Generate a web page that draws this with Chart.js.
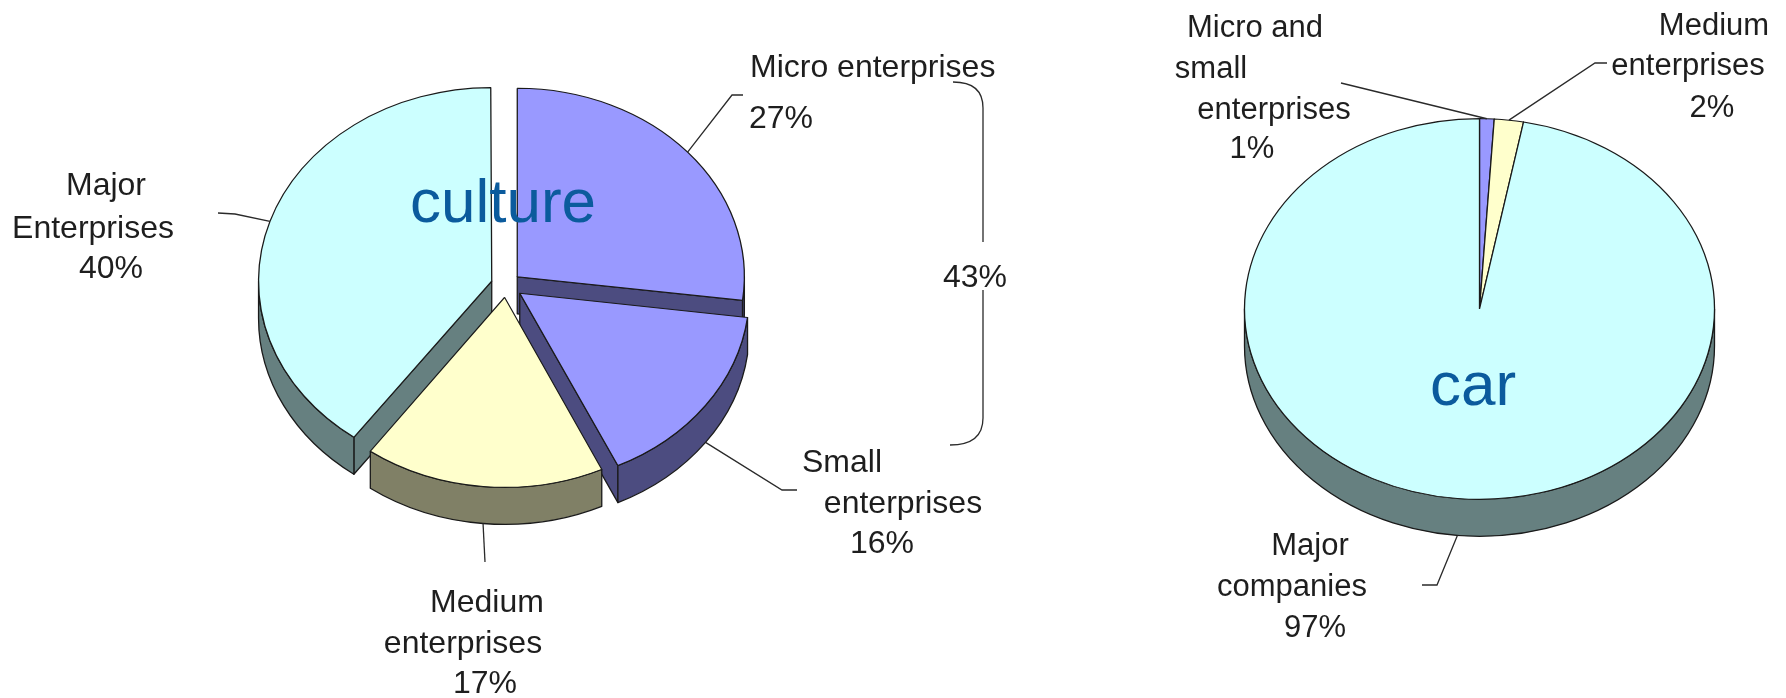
<!DOCTYPE html>
<html>
<head>
<meta charset="utf-8">
<title>Enterprise size shares: culture and car</title>
<script src="https://cdn.jsdelivr.net/npm/chart.js@4.4.1/dist/chart.umd.min.js"></script>
<style>
  html, body { margin: 0; padding: 0; background: #fff; }
  #wrap { position: relative; width: 1786px; height: 698px; }
  #wrap canvas { position: absolute; left: 0; top: 0; }
</style>
</head>
<body>
<div id="wrap">
  <canvas id="cultureChart" width="1786" height="698"></canvas>
  <canvas id="carChart" width="1786" height="698"></canvas>
</div>
<script>
// share of each enterprise size class, in percent
const cultureLabels = [['Micro enterprises'], ['Small', 'enterprises'], ['Medium', 'enterprises'], ['Major', 'Enterprises']];
const cultureShares = [27, 16, 17, 40];

const carLabels = [['Micro and', 'small', 'enterprises'], ['Medium', 'enterprises'], ['Major', 'companies']];
const carShares = [1, 2, 97];

// slice colours: flat top and the darker extruded side
const cultureTop = ['#9999ff', '#9999ff', '#ffffcc', '#ccffff'];
const cultureSide = ['#4c4c80', '#4c4c80', '#808066', '#668080'];
const carTop = ['#9999ff', '#ffffcc', '#ccffff'];
const carSide = ['#4c4c80', '#808066', '#668080'];

const FONT = '"Liberation Sans", Arial, sans-serif';

// geometry of one arc as chart.js draws it (offset and radius fix included),
// projected on the tilted plane
function sliceGeometry(arc, tilt) {
  const {x, y, startAngle, endAngle, outerRadius, options} = arc;
  const off = (options.offset || 0) / 4;
  const mid = (startAngle + endAngle) / 2;
  const alpha = endAngle - startAngle;
  const grow = off * (1 - Math.sin(Math.min(Math.PI, alpha)));
  const r = outerRadius + grow;
  const beta = Math.max(0.001, alpha * r - grow / Math.PI) / r;
  const trim = (alpha - beta) / 2;
  return {
    cx: x + Math.cos(mid) * off,
    cy: y + Math.sin(mid) * off * tilt,
    r: r,
    ry: r * tilt,
    s: startAngle + trim,
    e: endAngle - trim,
    mid: mid
  };
}

function drawSides(ctx, f, depth, color) {
  ctx.fillStyle = color;
  const cut = a => {
    const px = f.cx + Math.cos(a) * f.r;
    const py = f.cy + Math.sin(a) * f.ry;
    ctx.beginPath();
    ctx.moveTo(f.cx, f.cy);
    ctx.lineTo(px, py);
    ctx.lineTo(px, py + depth);
    ctx.lineTo(f.cx, f.cy + depth);
    ctx.closePath();
    ctx.fill();
    ctx.stroke();
  };
  // flat cut faces turned towards the viewer
  if (Math.cos(f.s) < -1e-6) cut(f.s);
  if (Math.cos(f.e) > 1e-6) cut(f.e);
  // curved wall, front half only
  for (let n = -1; n <= 1; n++) {
    const a1 = Math.max(f.s, 2 * Math.PI * n);
    const a2 = Math.min(f.e, Math.PI + 2 * Math.PI * n);
    if (a2 <= a1) continue;
    ctx.beginPath();
    ctx.ellipse(f.cx, f.cy, f.r, f.ry, 0, a1, a2);
    ctx.ellipse(f.cx, f.cy + depth, f.r, f.ry, 0, a2, a1, true);
    ctx.closePath();
    ctx.fill();
    ctx.stroke();
  }
}

const pie3d = {
  id: 'pie3d',
  beforeDatasetsDraw(chart, args, opts) {
    const ctx = chart.ctx;
    const meta = chart.getDatasetMeta(0);
    const faces = meta.data.map((arc, i) => Object.assign(sliceGeometry(arc, opts.tilt), {i}));
    faces.sort((a, b) => Math.sin(a.mid) - Math.sin(b.mid));
    ctx.save();
    ctx.lineWidth = 1.3;
    ctx.strokeStyle = '#1a1a1a';
    ctx.lineJoin = 'round';
    faces.forEach(f => drawSides(ctx, f, opts.depth, opts.sideColors[f.i]));
    ctx.restore();

    // squash the flat pie so the top faces lie on the tilted plane
    const cy = meta.data[0].y;
    ctx.save();
    ctx.translate(0, cy);
    ctx.scale(1, opts.tilt);
    ctx.translate(0, -cy);
  },
  afterDatasetsDraw(chart) {
    chart.ctx.restore();
  }
};

const sliceLabels = {
  id: 'sliceLabels',
  afterDraw(chart, args, opts) {
    const ctx = chart.ctx;
    const meta = chart.getDatasetMeta(0);
    const values = chart.data.datasets[0].data;
    const tilt = chart.options.plugins.pie3d.tilt;
    const depth = chart.options.plugins.pie3d.depth;
    ctx.save();

    // leader lines from the rim of each slice
    ctx.strokeStyle = '#2a2a2a';
    ctx.lineWidth = 1.3;
    meta.data.forEach((arc, i) => {
      const f = sliceGeometry(arc, tilt);
      const ax = f.cx + Math.cos(f.mid) * f.r;
      let ay = f.cy + Math.sin(f.mid) * f.ry;
      if (Math.sin(f.mid) > 0) ay += depth;
      ctx.beginPath();
      ctx.moveTo(ax, ay);
      opts.leaders[i].forEach(p => ctx.lineTo(p[0], p[1]));
      ctx.stroke();
    });

    // category name and percentage
    ctx.fillStyle = '#1e1e1e';
    ctx.font = opts.fontSize + 'px ' + FONT;
    ctx.textBaseline = 'alphabetic';
    meta.data.forEach((arc, i) => {
      const lines = chart.data.labels[i].concat(values[i] + '%');
      const place = opts.places[i];
      ctx.textAlign = place.align || 'center';
      lines.forEach((t, j) => ctx.fillText(t, place.at[j][0], place.at[j][1]));
    });

    // optional brace grouping several slices
    if (opts.brace) {
      const b = opts.brace;
      const total = b.slices.reduce((sum, i) => sum + values[i], 0);
      ctx.beginPath();
      ctx.moveTo(953, 82);
      ctx.quadraticCurveTo(983, 82, 983, 108);
      ctx.lineTo(983, 242);
      ctx.moveTo(983, 290);
      ctx.lineTo(983, 418);
      ctx.quadraticCurveTo(983, 445, 950, 445);
      ctx.stroke();
      ctx.textAlign = 'center';
      ctx.fillText(total + '%', b.at[0], b.at[1]);
    }

    // sector name written across the pie
    ctx.fillStyle = '#0b5b9d';
    ctx.font = '62px ' + FONT;
    ctx.textAlign = 'center';
    ctx.fillText(opts.title.text, opts.title.at[0], opts.title.at[1]);
    ctx.restore();
  }
};

function makePie(canvasId, labels, data, top, side, cfg) {
  return new Chart(document.getElementById(canvasId), {
    type: 'pie',
    data: {
      labels: labels,
      datasets: [{
        data: data,
        backgroundColor: top,
        borderColor: '#1a1a1a',
        borderWidth: 1.3,
        offset: cfg.offset,
        hoverOffset: 0,
        clip: false
      }]
    },
    options: {
      responsive: false,
      animation: false,
      events: [],
      radius: cfg.radius,
      layout: { padding: cfg.padding },
      plugins: {
        legend: { display: false },
        tooltip: { enabled: false },
        pie3d: { tilt: cfg.tilt, depth: cfg.depth, sideColors: side },
        sliceLabels: cfg.labels
      }
    },
    plugins: [pie3d, sliceLabels]
  });
}

makePie('cultureChart', cultureLabels, cultureShares, cultureTop, cultureSide, {
  offset: [60, 68, 60, 60],
  radius: 227,
  tilt: 0.83,
  depth: 37,
  padding: { left: 0, right: 774, top: 0, bottom: 128 },
  labels: {
    fontSize: 32,
    leaders: [
      [[732, 95], [743, 95]],
      [[782, 490], [797, 490]],
      [[485, 562]],
      [[235, 214], [218, 213]]
    ],
    places: [
      { align: 'left', at: [[750, 77], [749, 128]] },
      { at: [[842, 472], [903, 513], [882, 553]] },
      { at: [[487, 612], [463, 653], [485, 693]] },
      { at: [[106, 195], [93, 238], [111, 278]] }
    ],
    brace: { slices: [0, 1], at: [975, 287] },
    title: { text: 'culture', at: [503, 222] }
  }
});

makePie('carChart', carLabels, carShares, carTop, carSide, {
  offset: 0,
  radius: 235,
  tilt: 0.81,
  depth: 37,
  padding: { left: 1173, right: 0, top: 0, bottom: 80 },
  labels: {
    fontSize: 31,
    leaders: [
      [[1341, 83]],
      [[1595, 63], [1607, 63]],
      [[1437, 585], [1422, 585]]
    ],
    places: [
      { at: [[1255, 37], [1211, 78], [1274, 119], [1252, 158]] },
      { at: [[1714, 35], [1688, 75], [1712, 117]] },
      { at: [[1310, 555], [1292, 596], [1315, 637]] }
    ],
    title: { text: 'car', at: [1473, 405] }
  }
});
</script>
</body>
</html>
